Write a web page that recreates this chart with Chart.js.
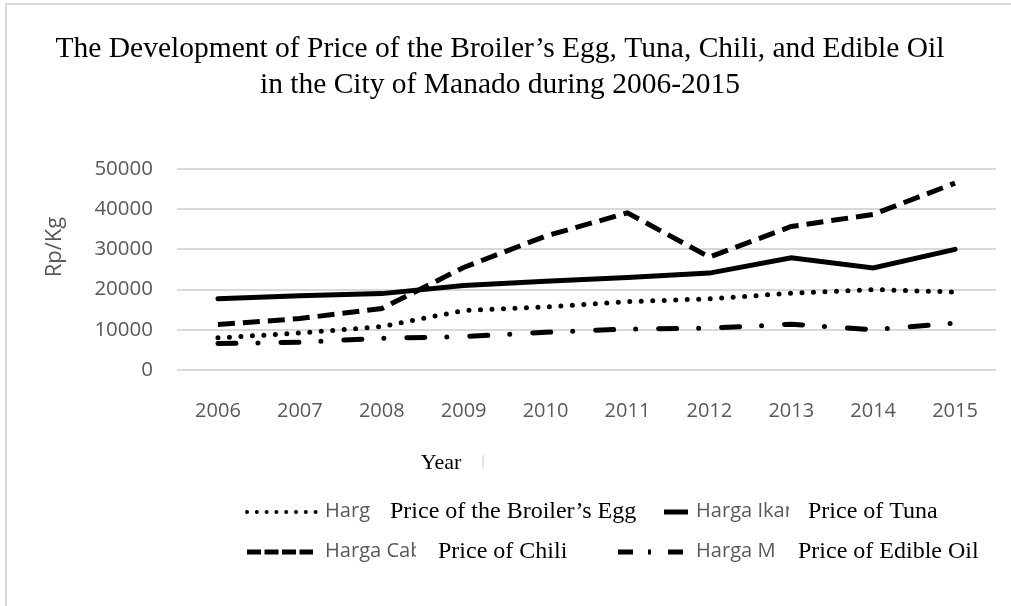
<!DOCTYPE html>
<html>
<head>
<meta charset="utf-8">
<script src="https://cdn.jsdelivr.net/npm/chart.js@4.4.0/dist/chart.umd.min.js"></script>
<style>
body { margin: 0; background: #fff; }
#wrap { position: relative; width: 1011px; height: 606px; overflow: hidden; }
canvas { position: absolute; left: 0; top: 0; }
#frameTop { position: absolute; left: 5px; top: 3px; width: 1006px; height: 2px; background: #d9d9d9; }
#frameLeft { position: absolute; left: 5px; top: 3px; width: 2px; height: 603px; background: #d9d9d9; }
</style>
</head>
<body>
<div id="wrap">
  <canvas id="line-chart" width="1011" height="606"></canvas>
  <div id="frameTop"></div>
  <div id="frameLeft"></div>
</div>
<script>
const years = ['2006', '2007', '2008', '2009', '2010', '2011', '2012', '2013', '2014', '2015'];
const eggPrice = [8000, 9200, 10800, 14800, 15700, 17000, 17700, 19100, 20000, 19400];
const tunaPrice = [17700, 18500, 19000, 21000, 22100, 23000, 24100, 27900, 25400, 30000];
const chiliPrice = [11300, 12800, 15300, 25500, 33300, 39100, 28100, 35700, 38700, 46500];
const oilPrice = [6600, 6900, 7900, 8300, 9400, 10200, 10400, 11400, 10000, 11700];

const titleLines = ['The Development of Price of the Broiler\u2019s Egg, Tuna, Chili, and Edible Oil',
                    'in the City of Manado during 2006-2015'];
const xTitle = 'Year';
const yTitle = 'Rp/Kg';
const seriesNames = ['Harga Telur', 'Harga Ikan', 'Harga Cabe', 'Harga Minyak Goreng'];
const seriesEnglish = ['Price of the Broiler\u2019s Egg', 'Price of Tuna', 'Price of Chili', 'Price of Edible Oil'];

const dotted = [0, 11.5];
const dashed = [17, 8];
const dashDot = [18, 22, 0, 23];

// legend layout: sample line, grey clipped name, black english label
const legendSpots = [
    {y: 512, x0: 247, x1: 316, gx: 325, clip: 370, bx: 390, dash: [0, 9.8], cap: 'round', w: 4},
    {y: 512, x0: 664, x1: 688, gx: 696, clip: 789, bx: 808, dash: [], cap: 'butt', w: 5},
    {y: 552, x0: 247, x1: 313, gx: 325, clip: 416, bx: 438, dash: [14, 3.5], cap: 'butt', w: 5},
    {y: 552, x0: 618, x1: 683, gx: 696, clip: 777, bx: 798, dash: [15, 15, 3, 17], cap: 'butt', w: 5}
];

// text drawn a bit wider than the font, like the stretched original
function wideText(ctx, str, x, y, sx) {
    ctx.save();
    ctx.translate(x, y);
    ctx.scale(sx, 1);
    ctx.fillText(str, 0, 0);
    ctx.restore();
}

const textPlugin = {
    id: 'textPlugin',
    afterDraw(chart) {
        const ctx = chart.ctx;
        ctx.save();
        ctx.fillStyle = '#000';
        ctx.textAlign = 'center';
        ctx.textBaseline = 'alphabetic';
        ctx.font = '29.5px "Liberation Serif"';
        ctx.fillText(titleLines[0], 500, 57);
        ctx.fillText(titleLines[1], 500, 93);

        ctx.font = '22px "Liberation Serif"';
        ctx.textBaseline = 'middle';
        ctx.fillText(xTitle, 441, 463);
        ctx.fillStyle = '#bfbfbf';
        ctx.font = '12px "Open Sans"';
        ctx.fillText('|', 483, 462);

        ctx.fillStyle = '#595959';
        ctx.font = '22px "Open Sans"';
        ctx.translate(55, 247);
        ctx.rotate(-Math.PI / 2);
        ctx.fillText(yTitle, 0, 0);
        ctx.restore();

        legendSpots.forEach((s, i) => {
            ctx.save();
            ctx.strokeStyle = '#000';
            ctx.lineWidth = s.w;
            ctx.lineCap = s.cap;
            ctx.setLineDash(s.dash);
            ctx.beginPath();
            ctx.moveTo(s.x0, s.y);
            ctx.lineTo(s.x1, s.y);
            ctx.stroke();
            ctx.restore();

            ctx.save();
            ctx.beginPath();
            ctx.rect(s.gx, s.y - 20, s.clip - s.gx, 40);
            ctx.clip();
            ctx.fillStyle = '#595959';
            ctx.font = '19.5px "Open Sans"';
            ctx.textAlign = 'left';
            ctx.textBaseline = 'middle';
            wideText(ctx, seriesNames[i], s.gx, s.y - 1, 1.03);
            ctx.restore();

            ctx.save();
            ctx.fillStyle = '#000';
            ctx.font = '24px "Liberation Serif"';
            ctx.textAlign = 'left';
            ctx.textBaseline = 'middle';
            ctx.fillText(seriesEnglish[i], s.bx, s.y);
            ctx.restore();
        });
    }
};

function makeSet(label, values, dash, cap) {
    return {
        label: label,
        data: values,
        borderColor: '#000',
        backgroundColor: '#000',
        borderWidth: 5,
        borderDash: dash,
        borderCapStyle: cap,
        pointRadius: 0,
        pointHoverRadius: 0,
        tension: 0,
        fill: false
    };
}

const config = {
    type: 'line',
    data: {
        labels: years,
        datasets: [
            makeSet(seriesNames[0], eggPrice, dotted, 'round'),
            makeSet(seriesNames[1], tunaPrice, [], 'round'),
            makeSet(seriesNames[2], chiliPrice, dashed, 'butt'),
            makeSet(seriesNames[3], oilPrice, dashDot, 'round')
        ]
    },
    options: {
        responsive: false,
        animation: false,
        layout: {
            padding: {top: 169, left: 0, right: 15, bottom: 186}
        },
        plugins: {
            legend: {display: false},
            title: {display: false},
            tooltip: {enabled: false}
        },
        scales: {
            x: {
                offset: true,
                grid: {display: false, drawTicks: false},
                border: {display: false},
                ticks: {
                    color: '#595959',
                    font: {family: 'Open Sans', size: 20},
                    padding: 29,
                    maxRotation: 0
                },
                afterFit: s => { s.height = 50; }
            },
            y: {
                min: 0,
                max: 50000,
                grid: {color: '#d9d9d9', lineWidth: 2, drawTicks: false},
                border: {display: false},
                ticks: {
                    stepSize: 10000,
                    color: '#595959',
                    font: {family: 'Open Sans', size: 20.5},
                    padding: 24,
                    callback: v => String(v)
                },
                afterFit: s => { s.width = 177; }
            }
        }
    },
    plugins: [textPlugin]
};

new Chart('line-chart', config);
</script>
</body>
</html>
